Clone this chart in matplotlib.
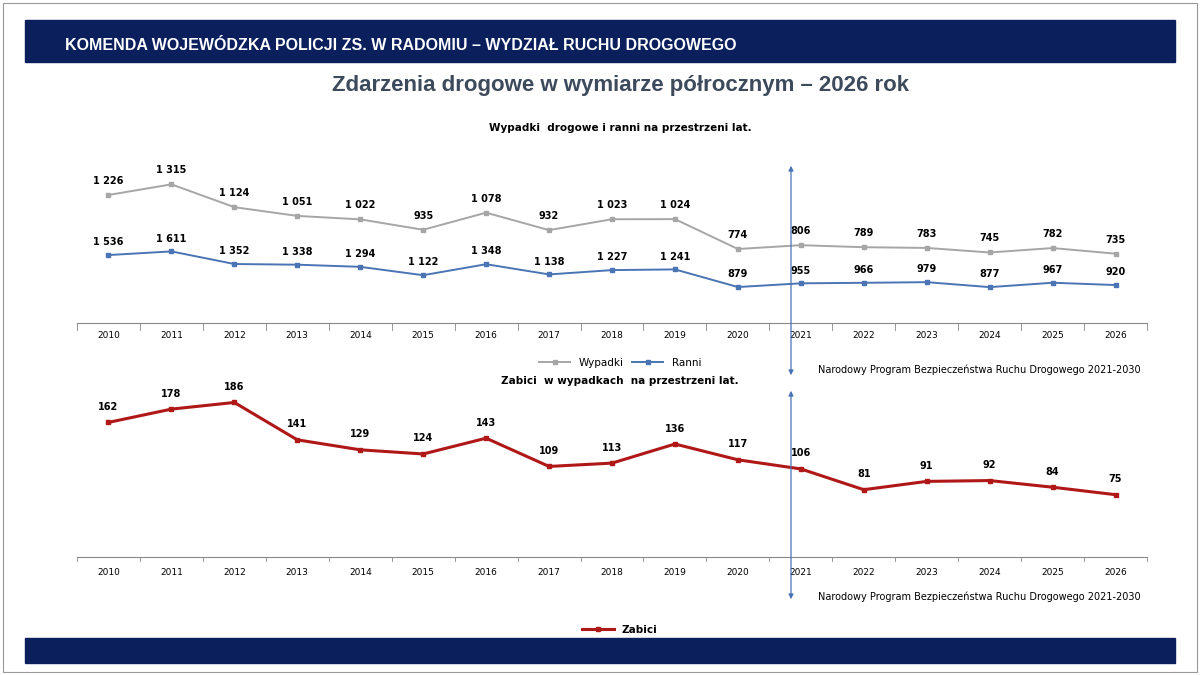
import matplotlib.pyplot as plt
from matplotlib.patches import Rectangle, FancyArrowPatch

years = [str(y) for y in range(2010, 2027)]
wypadki = [1226, 1315, 1124, 1051, 1022, 935, 1078, 932, 1023, 1024, 774, 806, 789, 783, 745, 782, 735]
ranni = [1536, 1611, 1352, 1338, 1294, 1122, 1348, 1138, 1227, 1241, 879, 955, 966, 979, 877, 967, 920]
zabici = [162, 178, 186, 141, 129, 124, 143, 109, 113, 136, 117, 106, 81, 91, 92, 84, 75]

W, H = 1200, 675
NAVY = "#0a1f5c"
GRAY = "#a6a6a6"
BLUE = "#4a74b4"
RED = "#b01818"


def fmt(v):
    return f"{v:,}".replace(",", " ")


def box(x0, y0, x1, y1):
    # pixel box (top-left origin) -> figure fraction rect
    return [x0 / W, 1 - y1 / H, (x1 - x0) / W, (y1 - y0) / H]


fig = plt.figure(figsize=(12, 6.75), dpi=100)
fig.patches.append(Rectangle((3 / W, 3 / H), 1 - 6 / W, 1 - 6 / H, transform=fig.transFigure,
                             fill=False, edgecolor="#999999", lw=0.8))
fig.patches.append(Rectangle((25 / W, 1 - 62 / H), 1150 / W, 42 / H, transform=fig.transFigure,
                             color=NAVY))
fig.patches.append(Rectangle((25 / W, 1 - 663 / H), 1150 / W, 25 / H, transform=fig.transFigure,
                             color=NAVY))
fig.text(65 / W, 1 - 46 / H, "KOMENDA WOJEWÓDZKA POLICJI ZS. W RADOMIU – WYDZIAŁ RUCHU DROGOWEGO",
         color="white", fontsize=11.5, fontweight="bold", va="center", family="Liberation Sans")
fig.text(620 / W, 1 - 85 / H, "Zdarzenia drogowe w wymiarze półrocznym – 2026 rok",
         color="#3c4a5c", fontsize=16, fontweight="bold", ha="center", va="center", family="Liberation Sans")
fig.text(620 / W, 1 - 128 / H, "Wypadki  drogowe i ranni na przestrzeni lat.",
         fontsize=7.5, fontweight="bold", ha="center", va="center")
fig.text(620 / W, 1 - 381 / H, "Zabici  w wypadkach  na przestrzeni lat.",
         fontsize=7.5, fontweight="bold", ha="center", va="center")
for yy in (370, 597):
    fig.text(818 / W, 1 - yy / H, "Narodowy Program Bezpieczeństwa Ruchu Drogowego 2021-2030",
             fontsize=7, ha="left", va="center")

x = list(range(len(years)))

# top chart: Ranni on ax, Wypadki on twin axis
ax = fig.add_axes(box(77, 140, 1147, 323))
ax2 = ax.twinx()
ax.plot(x, ranni, color=BLUE, lw=1.4, marker="s", ms=2.5, label="Ranni")
ax2.plot(x, wypadki, color=GRAY, lw=1.4, marker="s", ms=2.5, label="Wypadki")
ax.set_ylim(140, 3900)
ax2.set_ylim(155, 1686)
for a in (ax, ax2):
    a.set_xlim(-0.5, len(years) - 0.5)
    for s in ("top", "left", "right"):
        a.spines[s].set_visible(False)
    a.set_yticks([])
ax.spines["bottom"].set_color("#888888")
ax2.spines["bottom"].set_visible(False)
ax.set_xticks(x)
ax.set_xticklabels(years, fontsize=6.5)
ax.tick_params(axis="x", length=0, pad=6)
for i in range(len(years) + 1):
    ax.plot([i - 0.5, i - 0.5], [140, 140 - 150], color="#888888", lw=0.6, clip_on=False)
for xi, v in zip(x, ranni):
    ax.annotate(fmt(v), (xi, v), xytext=(0, 7), textcoords="offset points",
                ha="center", fontsize=7, fontweight="bold")
for xi, v in zip(x, wypadki):
    ax2.annotate(fmt(v), (xi, v), xytext=(0, 8), textcoords="offset points",
                 ha="center", fontsize=7, fontweight="bold")
h1, l1 = ax2.get_legend_handles_labels()
h2, l2 = ax.get_legend_handles_labels()
fig.legend(h1 + h2, l1 + l2, loc="center", bbox_to_anchor=(620 / W, 1 - 363 / H), ncol=2,
           frameon=False, fontsize=7.5, handlelength=3, columnspacing=0.8)

# bottom chart: Zabici
bx = fig.add_axes(box(77, 390, 1147, 557))
bx.plot(x, zabici, color=RED, lw=2.2, marker="s", ms=2.5, label="Zabici")
bx.set_ylim(0, 201)
bx.set_xlim(-0.5, len(years) - 0.5)
for s in ("top", "left", "right"):
    bx.spines[s].set_visible(False)
bx.spines["bottom"].set_color("#888888")
bx.set_yticks([])
bx.set_xticks(x)
bx.set_xticklabels(years, fontsize=6.5)
bx.tick_params(axis="x", length=0, pad=8)
for i in range(len(years) + 1):
    bx.plot([i - 0.5, i - 0.5], [0, -5], color="#888888", lw=0.6, clip_on=False)
for xi, v in zip(x, zabici):
    bx.annotate(str(v), (xi, v), xytext=(0, 9), textcoords="offset points",
                ha="center", fontsize=7, fontweight="bold")
h, l = bx.get_legend_handles_labels()
fig.legend(h, l, loc="center", bbox_to_anchor=(620 / W, 1 - 630 / H),
           frameon=False, handlelength=3, prop={"size": 7.5, "weight": "bold"})

# arrows (NPBRD 2021-2030 marker)
for y0, y1 in ((163, 378), (388, 602)):
    fig.add_artist(FancyArrowPatch(
        (791 / W, 1 - y0 / H), (791 / W, 1 - y1 / H), transform=fig.transFigure,
        arrowstyle="<|-|>", mutation_scale=7, color=BLUE, lw=0.9))

fig.savefig("out.png", dpi=100)
